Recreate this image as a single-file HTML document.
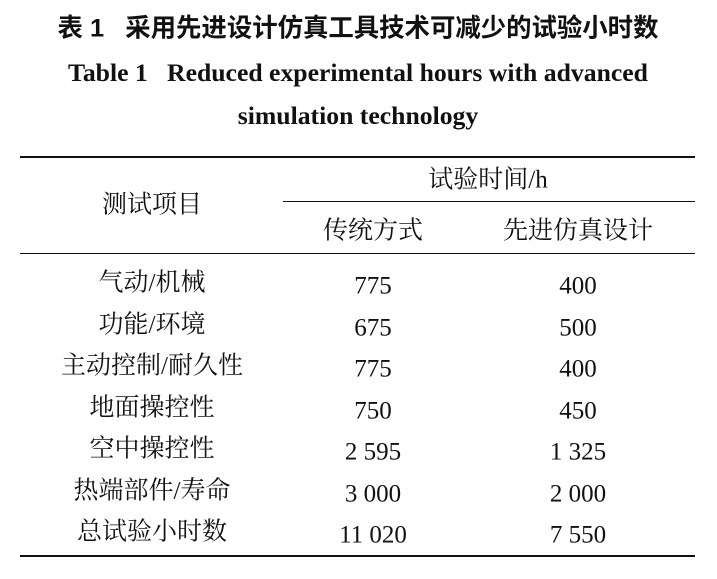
<!DOCTYPE html>
<html><head><meta charset="utf-8"><style>
body{margin:0;width:717px;height:579px;background:#fff;position:relative;overflow:hidden;font-family:"Liberation Serif","Noto Serif CJK SC",serif;color:#111}
.t{position:absolute;white-space:nowrap;transform:translate(-50%,-50%);font-size:25px;line-height:1}
.b{font-weight:bold}
.r{position:absolute;background:#111}
</style></head><body>
<div class="t b" style="left:358px;top:29px;font-family:'Liberation Sans','Noto Sans CJK SC',sans-serif;font-size:25.4px">表 1&nbsp;&nbsp;&nbsp;采用先进设计仿真工具技术可减少的试验小时数</div>
<div class="t b" style="left:358px;top:73px;font-size:25.7px">Table 1&nbsp;&nbsp;&nbsp;Reduced experimental hours with advanced</div>
<div class="t b" style="left:358px;top:116px;font-size:25.7px">simulation technology</div>
<div class="r" style="left:20px;top:156px;width:675px;height:2px"></div>
<div class="r" style="left:283px;top:201px;width:412px;height:1px"></div>
<div class="r" style="left:20px;top:253px;width:675px;height:1px"></div>
<div class="r" style="left:20px;top:555px;width:675px;height:2px"></div>
<div class="t" style="left:152px;top:205px">测试项目</div>
<div class="t" style="left:488px;top:180px">试验时间/h</div>
<div class="t" style="left:373px;top:231px">传统方式</div>
<div class="t" style="left:578px;top:231px">先进仿真设计</div>
<div class="t" style="left:152px;top:283px">气动/机械</div><div class="t" style="left:373px;top:286px">775</div><div class="t" style="left:578px;top:286px">400</div>
<div class="t" style="left:152px;top:325px">功能/环境</div><div class="t" style="left:373px;top:328px">675</div><div class="t" style="left:578px;top:328px">500</div>
<div class="t" style="left:152px;top:366px">主动控制/耐久性</div><div class="t" style="left:373px;top:369px">775</div><div class="t" style="left:578px;top:369px">400</div>
<div class="t" style="left:152px;top:408px">地面操控性</div><div class="t" style="left:373px;top:411px">750</div><div class="t" style="left:578px;top:411px">450</div>
<div class="t" style="left:152px;top:449px">空中操控性</div><div class="t" style="left:373px;top:452px">2 595</div><div class="t" style="left:578px;top:452px">1 325</div>
<div class="t" style="left:152px;top:491px">热端部件/寿命</div><div class="t" style="left:373px;top:494px">3 000</div><div class="t" style="left:578px;top:494px">2 000</div>
<div class="t" style="left:152px;top:532px">总试验小时数</div><div class="t" style="left:373px;top:535px">11 020</div><div class="t" style="left:578px;top:535px">7 550</div>
</body></html>
